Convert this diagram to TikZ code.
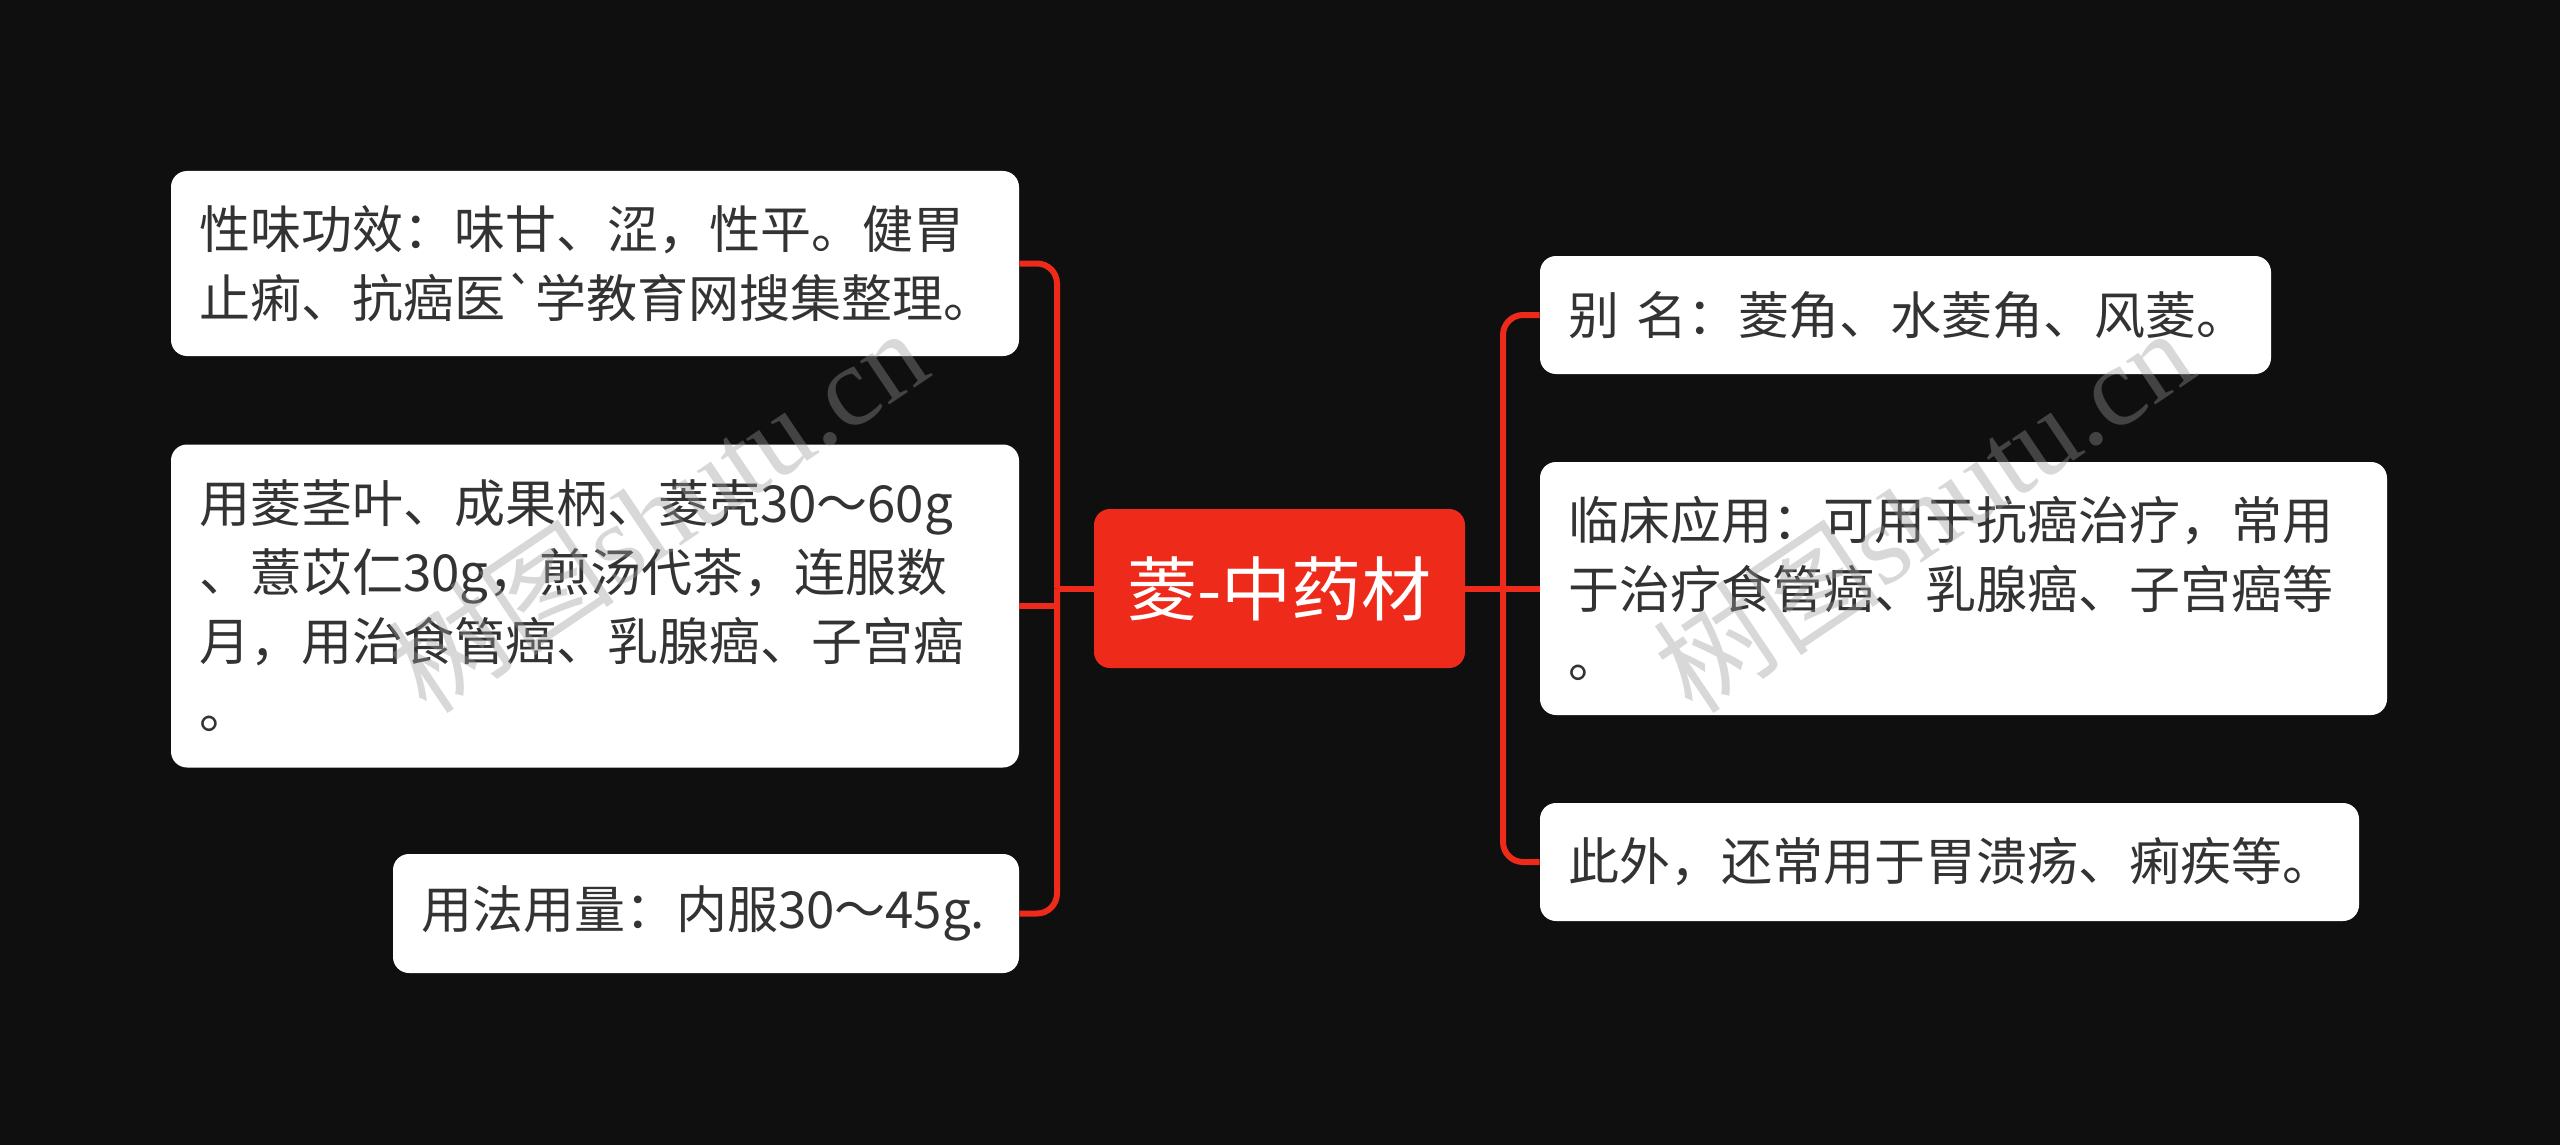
\documentclass[tikz,border=0pt]{standalone}
\usepackage{fontspec}
\setmainfont{Noto Sans CJK SC}
\newfontfamily\cjk{Noto Sans CJK SC}
\newfontfamily\wmfont{Liberation Serif}
\definecolor{bg}{HTML}{0F0F0F}
\definecolor{mred}{HTML}{EE2A1B}
\definecolor{txt}{HTML}{333333}
\definecolor{wm}{HTML}{9A9A9A}
\begin{document}
\begin{tikzpicture}[x=0.5pt,y=-0.5pt,
  leaf/.style={fill=white, rounded corners=8pt, text=txt, align=left, inner xsep=14pt, inner ysep=0pt, font=\cjk\fontsize{25.5}{34.3}\selectfont, anchor=center},
  root/.style={fill=mred, rounded corners=8pt, text=white, inner sep=0pt, font=\cjk\fontsize{35}{40}\selectfont},
  link/.style={draw=mred, line width=3pt, rounded corners=10pt},
  wmark/.style={text=wm, opacity=0.38, rotate=34, inner sep=0pt}]
\fill[bg] (0,0) rectangle (2560,1145);
\useasboundingbox (0,0) rectangle (2560,1145);
% root
\node[root, minimum width=185.5pt, minimum height=79.5pt] (c) at (1279.5,588.5) {菱-中药材};
% left leaves
\node[leaf, text width=396pt, minimum height=92.5pt] (l1) at (595,263.5) {性味功效：味甘、涩，性平。健胃\\止痢、抗癌医`学教育网搜集整理。};
\node[leaf, text width=396pt, minimum height=161.5pt] (l2) at (595,606) {用菱茎叶、成果柄、菱壳30～60g\\、薏苡仁30g，煎汤代茶，连服数\\月，用治食管癌、乳腺癌、子宫癌\\。};
\node[leaf, text width=285pt, minimum height=59.5pt] (l3) at (706,913.5) {用法用量：内服30～45g.};
% right leaves
\node[leaf, text width=337.5pt, minimum height=59pt] (r1) at (1905.5,315) {\mbox{别 名：菱角、水菱角、风菱。}};
\node[leaf, text width=395.5pt, minimum height=126.5pt] (r2) at (1963.5,588.5) {临床应用：可用于抗癌治疗，常用\\于治疗食管癌、乳腺癌、子宫癌等\\。};
\node[leaf, text width=381.5pt, minimum height=59pt] (r3) at (1949.5,862) {此外，还常用于胃溃疡、痢疾等。};
% junctions
\coordinate (jl) at (1057,588.5);
\coordinate (jr) at (1503,588.5);
% connectors
\draw[link] (c.west) -- (jl);
\draw[link] (jl) |- (l1.east);
\draw[link, sharp corners] (jl) |- (l2.east);
\draw[link] (jl) |- (l3.east);
\draw[link] (c.east) -- (r2.west);
\draw[link] (jr) |- (r1.west);
\draw[link] (jr) |- (r3.west);
% watermarks
\node[wmark] (w1) at (657,510) {\cjk\fontsize{57}{57}\selectfont 树图\wmfont shutu.cn};
\node[wmark] (w2) at (1923,510) {\cjk\fontsize{57}{57}\selectfont 树图\wmfont shutu.cn};
\end{tikzpicture}
\end{document}
